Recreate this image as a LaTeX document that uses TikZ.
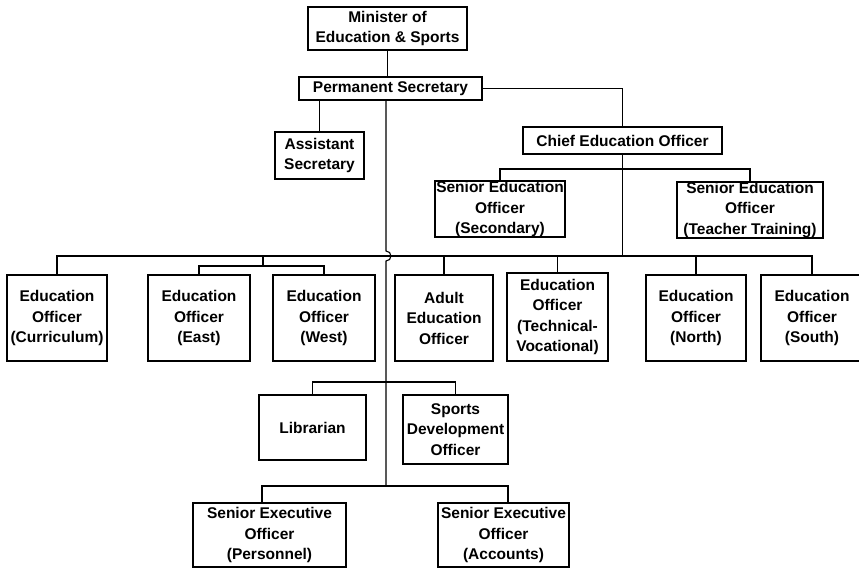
\documentclass[tikz,border=0pt]{standalone}
\usepackage{fontspec}
\setmainfont{Liberation Sans}
\begin{document}
\begin{tikzpicture}[x=1pt,y=-1pt,
  box/.style={draw=black, line width=1.8pt, fill=white, inner sep=0pt,
    align=center, font=\bfseries\fontsize{15.5}{20.5}\selectfont},
  link/.style={draw=black, line width=1.1pt}]
% page
\fill[white] (0,0) rectangle (859,571);
\useasboundingbox (0,0) rectangle (859,571);

% top management
\node[box, minimum width=159, minimum height=43] (min) at (387.5,28.5) {Minister of\\Education \& Sports};
\node[box, minimum width=183, minimum height=23] (ps) at (390.5,88.5) {Permanent Secretary};
\node[box, minimum width=89, minimum height=47] (asst) at (319.5,155.5) {Assistant\\Secretary};
\node[box, minimum width=199, minimum height=27] (chief) at (622.5,140.5) {Chief Education Officer};
\node[box, minimum width=130, minimum height=54] (sec) at (500,209) {Senior Education\\Officer\\(Secondary)};
\node[box, minimum width=146, minimum height=56] (tt) at (750,210) {Senior Education\\Officer\\(Teacher Training)};

% education officers
\node[box, minimum width=100, minimum height=86] (cur) at (57,318) {Education\\Officer\\(Curriculum)};
\node[box, minimum width=102, minimum height=86] (east) at (199,318) {Education\\Officer\\(East)};
\node[box, minimum width=102, minimum height=86] (west) at (324,318) {Education\\Officer\\(West)};
\node[box, minimum width=98, minimum height=86] (adult) at (444,318) {Adult\\Education\\Officer};
\node[box, minimum width=101, minimum height=88] (tech) at (557.5,317) {Education\\Officer\\(Technical-\\Vocational)};
\node[box, minimum width=100, minimum height=86] (north) at (696,318) {Education\\Officer\\(North)};
\node[box, minimum width=102, minimum height=86] (south) at (812,318) {Education\\Officer\\(South)};

% support staff
\node[box, minimum width=107, minimum height=65] (lib) at (312.5,427.5) {Librarian};
\node[box, minimum width=105, minimum height=69] (sports) at (455.5,429.5) {Sports\\Development\\Officer};
\node[box, minimum width=153, minimum height=64] (pers) at (269.5,535) {Senior Executive\\Officer\\(Personnel)};
\node[box, minimum width=131, minimum height=64] (acc) at (503.5,535) {Senior Executive\\Officer\\(Accounts)};

% levels of the horizontal bars
\coordinate (sy) at (0,169);
\coordinate (rowy) at (0,256);
\coordinate (ew) at (263,266);
\coordinate (ly) at (0,382);
\coordinate (by) at (0,486);
\coordinate (t0) at ([xshift=-4.5pt]ps.south);

% minister and permanent secretary
\draw[link] (min.south) -- (min.south |- ps.north);
\draw[link] (ps.east) -| (chief.north);
\draw[link] (ps.south -| asst.north) -- (asst.north);

% chief education officer branch
\draw[link] (sec.north) |- (sy -| tt.north) -- (tt.north);
\draw[link] (chief.south) -- (chief.south |- rowy);

% row of education officers
\draw[link] (cur.north) |- (rowy -| south.north) -- (south.north);
\draw[link] (adult.north) -- (adult.north |- rowy);
\draw[link] (tech.north) -- (tech.north |- rowy);
\draw[link] (north.north) -- (north.north |- rowy);
\draw[link] (ew |- rowy) -- (ew);
\draw[link] (east.north) |- (ew) -| (west.north);

% main trunk, hopping over the row bar
\draw[link] (t0) -- ([yshift=5pt]t0 |- rowy)
  arc[start angle=90, end angle=-90, radius=5pt] -- (t0 |- by);

% librarian and sports
\draw[link] (lib.north) |- (ly -| sports.north) -- (sports.north);

% senior executive officers
\draw[link] ([xshift=-7.5pt]pers.north) |- (by -| t0);
\draw[link] (by -| t0) -| ([xshift=4.5pt]acc.north);
\end{tikzpicture}
\end{document}
